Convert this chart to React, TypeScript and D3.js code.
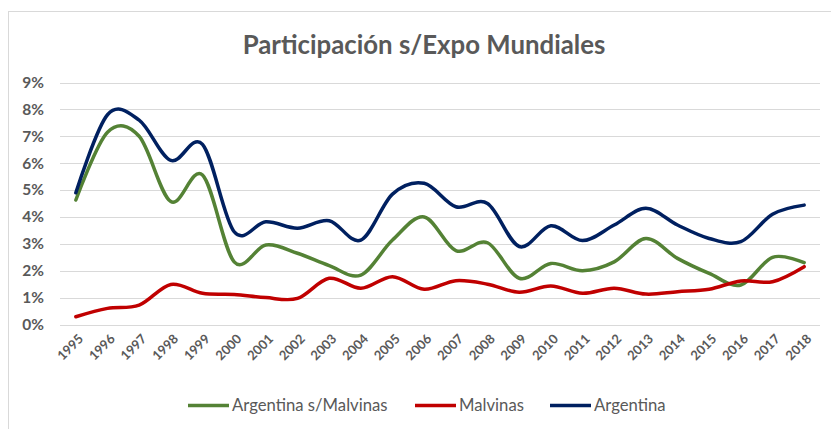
import React, { useEffect, useRef } from 'react';
import * as d3 from 'd3';

const years = ['1995', '1996', '1997', '1998', '1999', '2000', '2001', '2002', '2003', '2004', '2005', '2006',
    '2007', '2008', '2009', '2010', '2011', '2012', '2013', '2014', '2015', '2016', '2017', '2018'];

// valores en %
const argentinaSinMalvinas = [4.63, 7.15, 7.0, 4.57, 5.56, 2.33, 2.96, 2.65, 2.19, 1.84, 3.14, 4.0,
    2.75, 3.04, 1.72, 2.27, 2.0, 2.33, 3.2, 2.46, 1.9, 1.47, 2.5, 2.3];
const malvinas = [0.29, 0.6, 0.72, 1.49, 1.16, 1.12, 1.0, 0.97, 1.72, 1.35, 1.78, 1.31,
    1.63, 1.5, 1.2, 1.43, 1.16, 1.35, 1.13, 1.22, 1.31, 1.62, 1.59, 2.15];
const argentina = [4.9, 7.8, 7.6, 6.1, 6.7, 3.45, 3.82, 3.58, 3.86, 3.14, 4.85, 5.25,
    4.38, 4.5, 2.9, 3.67, 3.12, 3.7, 4.32, 3.7, 3.2, 3.08, 4.1, 4.44];

const yTicks = [0, 1, 2, 3, 4, 5, 6, 7, 8, 9];

const seriesNames = ['Argentina s/Malvinas', 'Malvinas', 'Argentina'];
const seriesColors = ['#548235', '#C00000', '#002060'];

export default function App() {
    const ref = useRef<SVGSVGElement | null>(null);

    useEffect(() => {
        document.body.style.margin = '0';
        const width = 831, height = 429;
        const margin = { top: 82.5, right: 11, bottom: 104.5, left: 60 };
        const font = 'Lato, "Open Sans", sans-serif';

        const svg = d3.select(ref.current);
        svg.selectAll('*').remove();

        svg.append('rect')
            .attr('x', 8.5).attr('y', 11.5)
            .attr('width', width + 20).attr('height', height + 20)
            .attr('fill', '#fff').attr('stroke', '#d9d9d9');

        const x = d3.scaleBand().domain(years).range([margin.left, width - margin.right]);
        const y = d3.scaleLinear().domain([0, 9]).range([height - margin.bottom, margin.top]);

        // grilla
        svg.append('g').selectAll('line').data(yTicks).enter().append('line')
            .attr('x1', margin.left).attr('x2', width - margin.right)
            .attr('y1', d => Math.round(y(d)) + 0.5).attr('y2', d => Math.round(y(d)) + 0.5)
            .attr('stroke', '#d9d9d9').attr('stroke-width', 1);

        svg.append('g').selectAll('text').data(yTicks).enter().append('text')
            .attr('x', 44).attr('y', d => y(d))
            .attr('dy', '0.35em')
            .attr('text-anchor', 'end')
            .style('font-family', font).style('font-size', '15.5px').style('font-weight', 'bold')
            .attr('fill', '#595959')
            .text(d => `${d}%`);

        svg.append('g').selectAll('text').data(years).enter().append('text')
            .attr('transform', d => `translate(${x(d)! + x.bandwidth() / 2 + 5},${height - margin.bottom + 12}) rotate(-45)`)
            .attr('text-anchor', 'end')
            .attr('dy', '0.35em')
            .style('font-family', font).style('font-size', '13px').style('font-weight', 'bold')
            .attr('fill', '#595959')
            .text(d => d);

        const line = d3.line<number>()
            .x((_, i) => x(years[i])! + x.bandwidth() / 2)
            .y(d => y(d))
            .curve(d3.curveCardinal.tension(0));

        const data = [argentinaSinMalvinas, malvinas, argentina];
        svg.append('g').selectAll('path').data(data).enter().append('path')
            .attr('d', d => line(d))
            .attr('fill', 'none')
            .attr('stroke', (_, i) => seriesColors[i])
            .attr('stroke-width', 3.5)
            .attr('stroke-linecap', 'round');

        svg.append('text')
            .attr('x', 424).attr('y', 54)
            .attr('text-anchor', 'middle')
            .style('font-family', font).style('font-size', '25.8px').style('font-weight', 'bold')
            .attr('fill', '#595959')
            .text('Participación s/Expo Mundiales');

        // leyenda
        const legendX = [188, 415, 550];
        const lg = svg.append('g').selectAll('g').data(seriesNames).enter().append('g')
            .attr('transform', (_, i) => `translate(${legendX[i]},405.5)`);
        lg.append('line')
            .attr('x1', 0).attr('x2', 41).attr('y1', 0).attr('y2', 0)
            .attr('stroke', (_, i) => seriesColors[i]).attr('stroke-width', 3.5);
        lg.append('text')
            .attr('x', 44).attr('dy', '0.35em')
            .style('font-family', font).style('font-size', '16.7px')
            .attr('fill', '#595959')
            .text(d => d);
    }, []);

    return <svg ref={ref} width={831} height={429} style={{ display: 'block' }} />;
}
